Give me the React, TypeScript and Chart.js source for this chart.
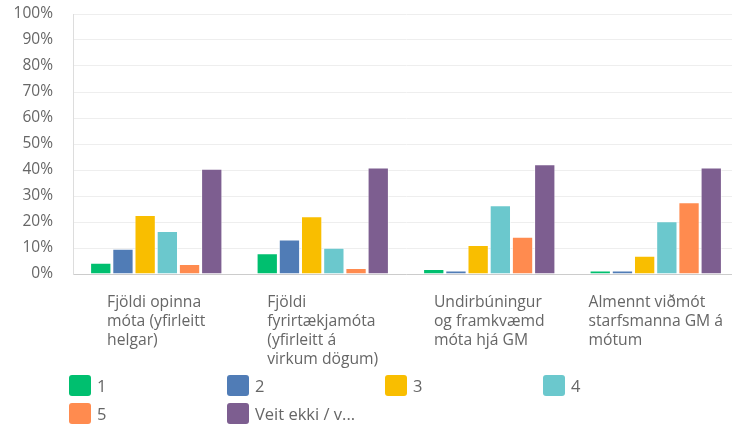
import React, { useEffect, useRef } from "react";
import { Chart, registerables } from "chart.js";

Chart.register(...registerables);

const categories: string[][] = [
  ["Fjöldi opinna", "móta (yfirleitt", "helgar)"],
  ["Fjöldi", "fyrirtækjamóta", "(yfirleitt á", "virkum dögum)"],
  ["Undirbúningur", "og framkvæmd", "móta hjá GM"],
  ["Almennt viðmót", "starfsmanna GM á", "mótum"],
];

const seriesNames = ["1", "2", "3", "4", "5", "Veit ekki / v..."];
const seriesColors = ["#00BF6F", "#507CB6", "#F9BE00", "#6BC8CD", "#FF8B4F", "#7D5E90"];

const s1 = [4.3, 8.0, 1.9, 1.3];
const s2 = [9.7, 13.3, 1.3, 1.3];
const s3 = [22.7, 22.2, 11.2, 7.0];
const s4 = [16.5, 10.1, 26.4, 20.3];
const s5 = [3.8, 2.3, 14.3, 27.6];
const s6 = [40.5, 41.0, 42.2, 41.0];
const seriesValues = [s1, s2, s3, s4, s5, s6];

const yTicks = [0, 10, 20, 30, 40, 50, 60, 70, 80, 90, 100];

const FONT = "'Open Sans', sans-serif";
const TEXT = "#666666";

const categoryLabelPlugin = {
  id: "categoryLabels",
  afterDraw(chart: any) {
    const { ctx, chartArea } = chart;
    const xs = chart.scales.x;
    ctx.save();
    ctx.font = `15.7px ${FONT}`;
    ctx.fillStyle = TEXT;
    ctx.textAlign = "left";
    ctx.textBaseline = "alphabetic";
    categories.forEach((lines, i) => {
      const cx = xs.getPixelForTick(i);
      const maxW = Math.max(...lines.map((l) => ctx.measureText(l).width));
      const left = cx - maxW / 2;
      lines.forEach((line, j) => {
        ctx.fillText(line, left, chartArea.bottom + 33 + j * 19);
      });
    });
    ctx.restore();
  },
};

export default function App() {
  const ref = useRef<HTMLCanvasElement | null>(null);

  useEffect(() => {
    document.body.style.margin = "0";
    document.body.style.overflow = "hidden";
    if (!ref.current) return;
    const chart = new Chart(ref.current, {
      type: "bar",
      data: {
        labels: categories.map((c) => c.join(" ")),
        datasets: seriesNames.map((name, i) => ({
          label: name,
          data: seriesValues[i],
          backgroundColor: seriesColors[i],
          borderColor: "rgba(255,255,255,0.6)",
          borderWidth: 1,
          categoryPercentage: 0.8,
          barPercentage: 0.96,
        })),
      },
      options: {
        animation: false,
        responsive: false,
        maintainAspectRatio: false,
        layout: { padding: { top: 14, bottom: 153, left: 0, right: 0 } },
        plugins: {
          legend: { display: false },
          tooltip: { enabled: false },
        },
        scales: {
          x: {
            grid: { display: false, drawTicks: false },
            border: { color: "#cccccc", width: 1 },
            ticks: { display: false },
          },
          y: {
            min: 0,
            max: 100,
            afterFit: (scale: any) => {
              scale.width = 73;
              scale.paddingTop = 0;
              scale.paddingBottom = 0;
            },
            afterBuildTicks: (scale: any) => {
              scale.ticks = yTicks.map((v) => ({ value: v }));
            },
            grid: { color: "#eeeeee", drawTicks: false },
            border: { color: "#dddddd", width: 1 },
            ticks: {
              padding: 20,
              color: TEXT,
              font: { family: FONT, size: 15.5 },
              callback: (v: any) => `${v}%`,
            },
          },
        },
      },
      plugins: [categoryLabelPlugin],
    });
    return () => chart.destroy();
  }, []);

  return (
    <div
      style={{
        position: "fixed",
        left: 0,
        top: 0,
        width: 732,
        height: 427,
        overflow: "hidden",
        background: "#fff",
        fontFamily: FONT,
      }}
    >
      <canvas ref={ref} width={739} height={427} style={{ display: "block" }} />
      {seriesNames.map((name, i) => {
        const col = i % 4;
        const row = Math.floor(i / 4);
        const left = 69 + col * 158;
        const top = 375 + row * 28;
        return (
          <div
            key={name}
            style={{
              position: "absolute",
              left,
              top,
              height: 21,
              display: "flex",
              alignItems: "center",
              whiteSpace: "nowrap",
            }}
          >
            <div
              style={{
                width: 22,
                height: 21,
                borderRadius: 3,
                background: seriesColors[i],
                marginRight: 6,
              }}
            />
            <span style={{ fontSize: 16.5, color: TEXT }}>{name}</span>
          </div>
        );
      })}
    </div>
  );
}
